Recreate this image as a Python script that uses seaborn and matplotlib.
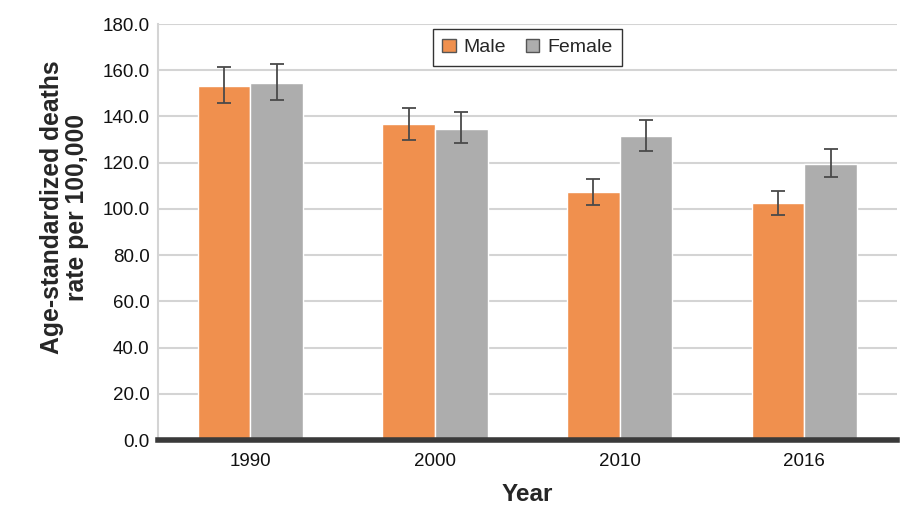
import pandas as pd
import numpy as np
import matplotlib
matplotlib.use("Agg")
import matplotlib.pyplot as plt
import seaborn as sns
from matplotlib.ticker import FormatStrFormatter

years = ["1990", "2000", "2010", "2016"]
male = [153.3, 136.7, 107.3, 102.6]
male_lo = [145.8, 129.9, 101.9, 97.4]
male_hi = [161.3, 143.7, 112.8, 107.9]
female = [154.6, 134.7, 131.4, 119.6]
female_lo = [147.1, 128.4, 125.0, 113.8]
female_hi = [162.7, 141.9, 138.4, 125.8]

colors = {"Male": "#F0904E", "Female": "#ADADAD"}

df = pd.DataFrame({
    "Year": years * 2,
    "rate": male + female,
    "lo": male_lo + female_lo,
    "hi": male_hi + female_hi,
    "Sex": ["Male"] * 4 + ["Female"] * 4,
})

sns.set_style("white")
plt.rcParams["font.family"] = ["Liberation Sans", "DejaVu Sans"]

fig = plt.figure(figsize=(9.03, 5.12), dpi=100)
ax = fig.add_axes([0.175, 0.1406, 0.818, 0.8125])

sns.barplot(data=df, x="Year", y="rate", hue="Sex", palette=colors,
            width=0.57, gap=0, edgecolor="white", linewidth=1,
            errorbar=None, saturation=1, ax=ax, zorder=2)

# error bars on top of each bar
for cont, sex in zip(ax.containers, ["Male", "Female"]):
    sub = df[df["Sex"] == sex]
    xs = [b.get_x() + b.get_width() / 2 for b in cont]
    yerr = [sub["rate"] - sub["lo"], sub["hi"] - sub["rate"]]
    ax.errorbar(xs, sub["rate"], yerr=yerr, fmt="none", ecolor="#4a4a4a",
                elinewidth=1.3, capsize=5, capthick=1.3, zorder=3)

ax.set_ylim(0, 180)
ax.set_yticks(np.arange(0, 181, 20))
ax.yaxis.set_major_formatter(FormatStrFormatter("%.1f"))
ax.set_xlim(-0.5, 3.5)
ax.grid(axis="y", color="#d4d4d4", linewidth=1.5, zorder=0)
ax.set_axisbelow(True)

for s in ["top", "right"]:
    ax.spines[s].set_visible(False)
ax.spines["left"].set_color("#d4d4d4")
ax.spines["left"].set_linewidth(1.5)
ax.spines["bottom"].set_color("#3a3a3a")
ax.spines["bottom"].set_linewidth(4)
ax.spines["bottom"].set_zorder(4)

ax.tick_params(axis="both", labelsize=13.5, length=0, colors="#111111")
ax.tick_params(axis="y", pad=6)
ax.tick_params(axis="x", pad=9)

ax.set_xlabel("Year", fontsize=17.5, fontweight="bold", labelpad=10)
ax.set_ylabel("Age-standardized deaths\nrate per 100,000", fontsize=17.8,
              fontweight="bold", linespacing=1.05)
ax.yaxis.set_label_coords(-0.094, 0.56)

leg = ax.legend(loc="upper center", bbox_to_anchor=(0.5, 0.988), ncol=2,
                frameon=True, fontsize=14, handlelength=0.7, handleheight=0.7,
                handletextpad=0.4, columnspacing=1.0, borderpad=0.5,
                borderaxespad=0, fancybox=False)
leg.get_frame().set_edgecolor("black")
leg.get_frame().set_linewidth(1)
for h in leg.legend_handles:
    h.set_edgecolor("#555555")
    h.set_linewidth(1)

fig.savefig("out.png", dpi=100)
